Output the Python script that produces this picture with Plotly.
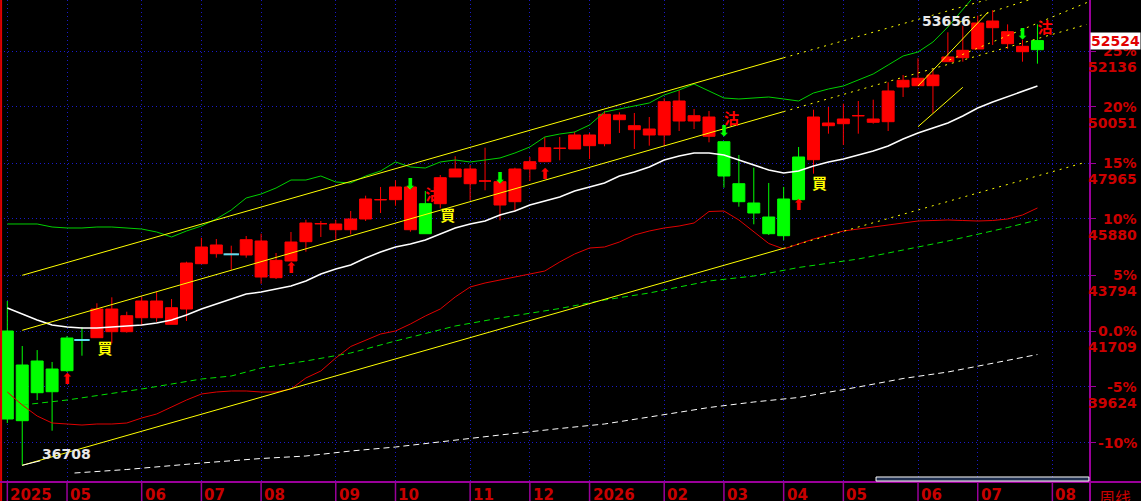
import plotly.graph_objects as go

# weekly bars, first bar = week of 2025-03-31, last = week of 2026-07-27
weeks = list(range(70))
colour = list("gggggg" + "r" * 22 + "g" + "r" * 19 + "g" * 6 + "r" * 15 + "g")

opens = [41709, 40443, 40592, 40294, 41448, 41374, 41460, 41683, 41683, 42204,
         42204, 41958, 42528, 44215, 44588, 44565, 44539, 43720, 43694, 44316,
         45035, 45705, 45481, 45481, 45880, 46599, 46599, 45481, 46450, 46450,
         47444, 47194, 47295, 46401, 46524, 47742, 48014, 48513, 48487, 48610,
         48684, 49578, 49205, 49008, 49008, 49529, 49529, 48960, 48758, 47194,
         46476, 45954, 46625, 48189, 48088, 49354, 49429, 49727, 49481, 49503,
         50796, 50844, 50844, 51738, 51887, 52211, 53004, 52408, 52110, 52185]
highs = [42826, 41150, 40999, 40555, 41523, 41858, 42741, 42964, 42428, 42986,
         43173, 42901, 44290, 45183, 45135, 44886, 45247, 45332, 44614, 45396,
         45854, 45805, 45854, 46178, 46748, 47072, 47321, 47072, 46923, 47518,
         48215, 47891, 48535, 47269, 47790, 48189, 48934, 48934, 49131, 49083,
         49902, 49853, 49827, 49678, 50375, 50673, 49976, 49902, 48758, 48263,
         47790, 47221, 47072, 48561, 49950, 50051, 50173, 50274, 50323, 50971,
         51242, 51865, 51466, 52833, 53078, 53451, 53656, 53128, 52557, 53128]
lows = [38283, 36708, 39139, 37996, 40182, 40789, 41448, 41251, 41646, 41906,
        42055, 41958, 42081, 44215, 44439, 43992, 44439, 43470, 43645, 44316,
        44662, 45210, 45109, 45310, 45805, 46103, 46375, 45407, 45332, 46278,
        47444, 46576, 46949, 45832, 46178, 47295, 48014, 48066, 48487, 48114,
        48587, 49083, 48487, 48610, 48587, 49157, 49231, 48736, 47046, 46338,
        45683, 45284, 45087, 46599, 47567, 49057, 48636, 49057, 49429, 49157,
        50423, 50844, 49827, 51738, 51738, 52211, 52360, 52211, 51738, 51664]
closes = [38432, 38369, 39411, 39448, 40231, 41374, 42528, 42528, 42279, 42826,
          42826, 42577, 44241, 44837, 44912, 44565, 45109, 45061, 44342, 45023,
          45731, 45705, 45694, 45880, 46625, 46599, 47072, 47072, 45332, 47418,
          47742, 47742, 47295, 47269, 47742, 48014, 48535, 48513, 49008, 49008,
          49779, 49753, 49354, 49231, 50248, 50274, 49727, 49678, 47481, 46524,
          46103, 45332, 45258, 46599, 49678, 49455, 49604, 49727, 49604, 50647,
          51045, 51120, 51242, 51913, 52162, 53179, 53253, 52855, 52311, 52524]

# flat bars drawn with a cyan body line
flat_idx = [5, 15]

ma_white = [42566, 42342, 42119, 41932, 41858, 41821, 41821, 41858, 41895, 41932,
            42007, 42119, 42305, 42528, 42714, 42901, 43087, 43161, 43273, 43385,
            43571, 43832, 44018, 44167, 44428, 44651, 44837, 44949, 45098, 45321,
            45545, 45694, 45805, 46029, 46178, 46401, 46550, 46699, 46923, 47072,
            47221, 47481, 47630, 47816, 48077, 48226, 48338, 48338, 48263, 48077,
            47891, 47705, 47593, 47667, 47853, 48002, 48114, 48263, 48412, 48598,
            48859, 49083, 49269, 49455, 49716, 50013, 50237, 50442, 50647, 50833]
band_up = [45694, 45694, 45694, 45582, 45545, 45545, 45582, 45582, 45545, 45507,
           45396, 45210, 45433, 45619, 45880, 46215, 46662, 46811, 47034, 47332,
           47332, 47481, 47258, 47221, 47481, 47667, 48003, 47816, 47779, 48003,
           48077, 48003, 48077, 48152, 48338, 48561, 48934, 49045, 49120, 49380,
           49865, 49976, 50088, 50200, 50498, 50684, 50907, 50647, 50386, 50349,
           50386, 50423, 50349, 50274, 50572, 50721, 50833, 51056, 51280, 51615,
           51950, 52099, 52471, 53030, 53663, 54333]
band_low = [39437, 38953, 38544, 38283, 38246, 38208, 38246, 38246, 38283, 38469,
            38618, 38879, 39139, 39363, 39437, 39475, 39475, 39437, 39437, 39549,
            39959, 40219, 40704, 41132, 41374, 41597, 41709, 41970, 42268, 42528,
            42975, 43348, 43497, 43608, 43739, 43832, 43943, 44279, 44576, 44800,
            44837, 45023, 45284, 45433, 45545, 45619, 45731, 46159, 46178, 45843,
            45396, 44968, 44763, 44949, 45135, 45284, 45433, 45507, 45582, 45656,
            45750, 45805, 45824, 45843, 45824, 45805, 45824, 45880, 46029, 46290]

gdash_idx = [1, 4, 9, 13, 15, 17, 20, 23, 26, 30, 33, 37, 40, 43, 47, 50, 53, 57, 60, 63, 67, 69]
gdash_px = [38953, 39139, 39549, 39921, 40033, 40331, 40592, 40890, 41337, 41895, 42193,
            42547, 42863, 43124, 43571, 43757, 44074, 44390, 44725, 45061, 45563, 45843]
wdash_idx = [4.5, 8, 13, 17, 20, 23, 26, 30, 33, 37, 40, 43, 47, 50, 53, 57, 60, 63, 67, 69]
wdash_px = [36421, 36551, 36793, 36961, 37054, 37240, 37389, 37650, 37836, 38078,
            38246, 38506, 38860, 39065, 39233, 39624, 39940, 40182, 40629, 40834]

# trend lines: (start idx, start price, end idx, end price, dotted?)
trend_lines = [
    (1, 36708, 52, 44789, False), (52, 44789, 72.1, 47974, True),
    (1, 41735, 52, 49879, False), (52, 49879, 72.3, 53123, True),
    (1, 43783, 52, 51883, False), (52, 51883, 67, 54265, True),
    (61, 49317, 64, 50784, False), (61, 50833, 65.7, 53589, False),
    (63.1, 51801, 72.4, 53961, True), (63.8, 53216, 68.4, 54035, True),
]

buy_idx = [4, 19, 36, 53]
buy_px = [39884, 44018, 47518, 46364]
sell_idx = [27, 33, 48, 68]
sell_px = [47127, 47369, 49101, 52714]
buy_txt_idx = [6.55, 29.5, 54.4]
buy_txt_px = [41001, 45954, 47146]
sell_txt_idx = [28.5, 48.5, 69.5]
sell_txt_px = [46736, 49567, 52956]

month_idx = [0, 4, 9, 13, 17, 22, 26, 31, 35, 39, 44, 48, 52, 56, 61, 65, 70]
month_txt = ["2025", "05", "06", "07", "08", "09", "10", "11", "12",
             "2026", "02", "03", "04", "05", "06", "07", "08"]

grid_px = [52136, 50051, 47965, 45880, 43794, 41709, 39624, 37539]
pct_txt = ["25%", "20%", "15%", "10%", "5%", "0.0%", "-5%", "-10%"]
px_txt = ["52136", "50051", "47965", "45880", "43794", "41709", "39624", ""]

last_px = 52524
low_px, low_idx = 36708, 1
high_px = 53656

RED = "#ff0000"
GREEN = "#00ff00"
AXRED = "#cc0000"
PURPLE = "#9a009a"
GRID = "#1a1ac8"
BOLD = dict(family="DejaVu Sans", size=14, weight="bold")

fig = go.Figure()

for col, c in (("r", RED), ("g", GREEN)):
    idx = [i for i in weeks if colour[i] == col]
    style = dict(line=dict(color=c, width=1), fillcolor=c)
    fig.add_trace(go.Candlestick(
        x=idx,
        open=[opens[i] for i in idx], high=[highs[i] for i in idx],
        low=[lows[i] for i in idx], close=[closes[i] for i in idx],
        increasing=style, decreasing=style, whiskerwidth=0, showlegend=False))

fig.add_trace(go.Scatter(x=flat_idx, y=[closes[i] for i in flat_idx], mode="markers",
                         marker=dict(symbol="line-ew", size=11, line=dict(color="#5fe0f0", width=2)),
                         showlegend=False, hoverinfo="skip"))

fig.add_trace(go.Scatter(x=wdash_idx, y=wdash_px, mode="lines",
                         line=dict(color="white", width=1, dash="6px,4px"), showlegend=False))
fig.add_trace(go.Scatter(x=gdash_idx, y=gdash_px, mode="lines",
                         line=dict(color="#00e000", width=1, dash="6px,4px"), showlegend=False))
fig.add_trace(go.Scatter(x=weeks, y=band_low, mode="lines",
                         line=dict(color="#e00000", width=1), showlegend=False))
fig.add_trace(go.Scatter(x=weeks[:len(band_up)], y=band_up, mode="lines",
                         line=dict(color="#00d000", width=1), showlegend=False))
fig.add_trace(go.Scatter(x=weeks, y=ma_white, mode="lines",
                         line=dict(color="white", width=1.5), showlegend=False))

for x0, y0, x1, y1, dotted in trend_lines:
    fig.add_trace(go.Scatter(x=[x0, x1], y=[y0, y1], mode="lines", hoverinfo="skip",
                             line=dict(color="#ffff00", width=1, dash="2px,5px" if dotted else "solid"),
                             showlegend=False))

fig.add_trace(go.Scatter(x=buy_idx, y=buy_px, mode="text", text=["⬆"] * len(buy_idx),
                         textfont=dict(family="DejaVu Sans", size=15, color=RED),
                         showlegend=False, hoverinfo="skip"))
fig.add_trace(go.Scatter(x=sell_idx, y=sell_px, mode="text", text=["⬇"] * len(sell_idx),
                         textfont=dict(family="DejaVu Sans", size=15, color=GREEN),
                         showlegend=False, hoverinfo="skip"))
fig.add_trace(go.Scatter(x=buy_txt_idx, y=buy_txt_px, mode="text", text=["買"] * len(buy_txt_idx),
                         textfont=dict(family="Noto Sans CJK TC", size=15, color="#ffff00", weight="bold"),
                         showlegend=False, hoverinfo="skip"))
fig.add_trace(go.Scatter(x=sell_txt_idx, y=sell_txt_px, mode="text", text=["沽"] * len(sell_txt_idx),
                         textfont=dict(family="Noto Sans CJK TC", size=15, color=RED, weight="bold"),
                         showlegend=False, hoverinfo="skip"))

ann = []
for p, t1, t2 in zip(grid_px, pct_txt, px_txt):
    ann.append(dict(xref="paper", x=1.045, xanchor="right", yref="y", y=p, text=t1,
                    showarrow=False, font=dict(BOLD, color=AXRED)))
    if t2:
        ann.append(dict(xref="paper", x=1.045, xanchor="right", yref="y", y=p, yshift=-16,
                        text=t2, showarrow=False, font=dict(BOLD, color=AXRED)))
for i, t in zip(month_idx, month_txt):
    ann.append(dict(xref="x", x=i, xanchor="left", xshift=1, yref="paper", y=0, yanchor="top",
                    yshift=-2, text=t, showarrow=False, font=dict(BOLD, size=15, color="#c80000")))
ann.append(dict(xref="paper", x=1.006, xanchor="left", yref="paper", y=0, yanchor="top", yshift=-1,
                text="周线", showarrow=False,
                font=dict(family="Noto Sans CJK SC", size=16, color="#c80000")))
ann.append(dict(xref="paper", x=1.0, xanchor="left", yref="y", y=last_px, text=str(last_px),
                showarrow=False, bgcolor="white", borderpad=0, font=dict(BOLD, color="#e00000")))
ann.append(dict(x=low_idx, y=low_px, text=str(low_px), showarrow=True, arrowhead=0,
                arrowcolor="white", arrowwidth=1, ax=44, ay=-11, font=dict(BOLD, color="#e8e8e8")))
ann.append(dict(x=62.9, y=53253, text=str(high_px), showarrow=False, font=dict(BOLD, color="#e8e8e8")))

shapes = [
    dict(type="line", xref="paper", yref="paper", x0=0.001, x1=0.001, y0=-0.04, y1=1,
         line=dict(color="#e00000", width=2)),
    dict(type="line", xref="paper", yref="paper", x0=0, x1=1.05, y0=0, y1=0,
         line=dict(color=PURPLE, width=2)),
    dict(type="line", xref="paper", yref="paper", x0=1, x1=1, y0=-0.04, y1=1,
         line=dict(color=PURPLE, width=2)),
    dict(type="rect", xref="paper", yref="paper", x0=0.8037, x1=0.999, y0=0.002, y1=0.0104,
         fillcolor="#203050", line=dict(color="white", width=1)),
]
for i in month_idx:
    shapes.append(dict(type="line", xref="x", yref="paper", x0=i, x1=i, y0=-0.04, y1=0,
                       line=dict(color=PURPLE, width=1.5)))

fig.update_layout(
    width=1141, height=501,
    margin=dict(l=0, r=51, t=0, b=19),
    paper_bgcolor="black", plot_bgcolor="black",
    showlegend=False, boxgap=0.2, boxgroupgap=0,
    annotations=ann, shapes=shapes,
    xaxis=dict(range=[-0.49, 72.52], tickvals=month_idx, showticklabels=False,
               showgrid=True, gridcolor=GRID, griddash="1px,3px", gridwidth=1,
               zeroline=False, showline=False, rangeslider=dict(visible=False)),
    yaxis=dict(range=[36086, 54035], side="right", tickvals=grid_px, showticklabels=False,
               ticks="outside", ticklen=5, tickcolor=PURPLE,
               showgrid=True, gridcolor=GRID, griddash="1px,3px", gridwidth=1,
               zeroline=False, showline=False),
)

fig.write_html("out.html", config={"displayModeBar": False},
               post_script="document.body.style.margin='0';document.body.style.overflow='hidden';")
